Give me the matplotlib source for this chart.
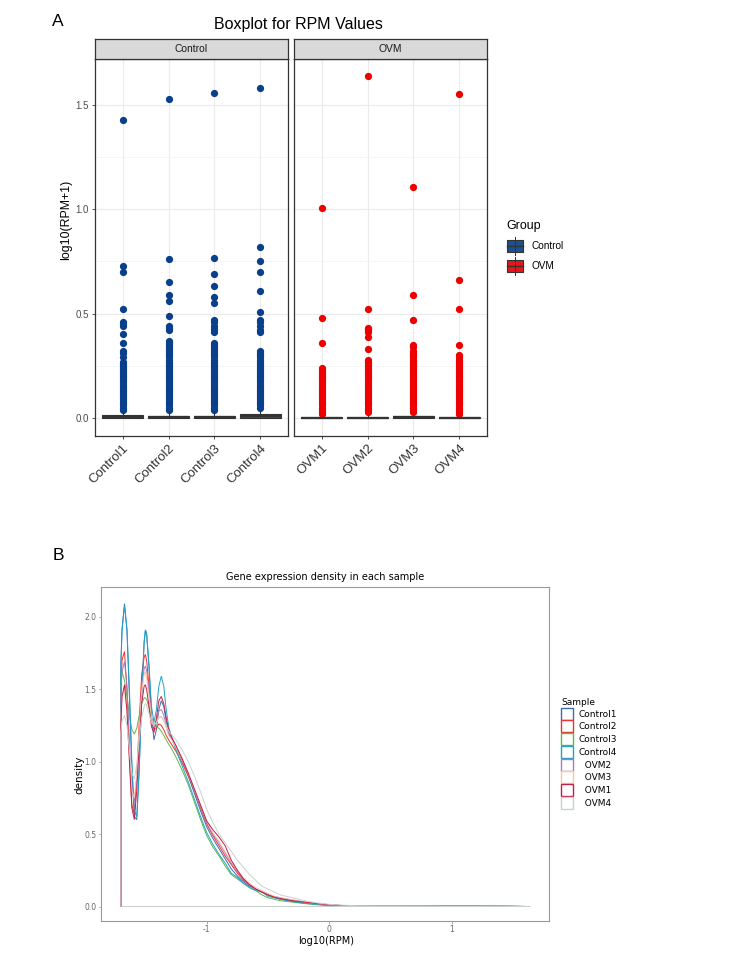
import numpy as np
import matplotlib
matplotlib.use("Agg")
import matplotlib.pyplot as plt
from matplotlib.patches import Rectangle, Patch
from matplotlib.lines import Line2D

# ---------------- Panel A data (log10(RPM+1) boxplots) ----------------
control_samples = ["Control1", "Control2", "Control3", "Control4"]
ovm_samples = ["OVM1", "OVM2", "OVM3", "OVM4"]

control_q1 = [0.0, 0.0, 0.0, 0.001]
control_med = [0.005, 0.004, 0.004, 0.008]
control_q3 = [0.012, 0.011, 0.011, 0.018]
control_whi = [0.035, 0.032, 0.032, 0.048]

ovm_q1 = [0.0, 0.0, 0.0, 0.0]
ovm_med = [0.001, 0.001, 0.003, 0.001]
ovm_q3 = [0.003, 0.003, 0.009, 0.003]
ovm_whi = [0.015, 0.02, 0.025, 0.012]

control1_out = [1.43, 0.73, 0.70, 0.52, 0.46, 0.45, 0.44, 0.40, 0.36, 0.32, 0.31, 0.29,
                0.27, 0.26, 0.25, 0.24, 0.23, 0.22, 0.21, 0.20, 0.19, 0.18, 0.17, 0.16,
                0.15, 0.14, 0.13, 0.12, 0.11, 0.10, 0.09, 0.08, 0.07, 0.06, 0.05, 0.04]
control2_out = [1.53, 0.76, 0.65, 0.59, 0.56, 0.49, 0.44, 0.43, 0.42, 0.37, 0.36, 0.35,
                0.34, 0.33, 0.32, 0.31, 0.30, 0.29, 0.28, 0.27, 0.26, 0.25, 0.24, 0.23,
                0.22, 0.21, 0.20, 0.19, 0.18, 0.17, 0.16, 0.15, 0.14, 0.13, 0.12, 0.11,
                0.10, 0.09, 0.08, 0.07, 0.06, 0.05, 0.04]
control3_out = [1.555, 0.765, 0.69, 0.63, 0.58, 0.55, 0.47, 0.46, 0.44, 0.425, 0.41, 0.36,
                0.35, 0.34, 0.33, 0.32, 0.31, 0.30, 0.29, 0.28, 0.27, 0.26, 0.25, 0.24,
                0.23, 0.22, 0.21, 0.20, 0.19, 0.18, 0.17, 0.16, 0.15, 0.14, 0.13, 0.12,
                0.11, 0.10, 0.09, 0.08, 0.07, 0.06, 0.05, 0.04]
control4_out = [1.58, 0.82, 0.75, 0.70, 0.61, 0.51, 0.47, 0.46, 0.44, 0.42, 0.41, 0.32,
                0.31, 0.30, 0.29, 0.28, 0.27, 0.26, 0.25, 0.24, 0.23, 0.22, 0.21, 0.20,
                0.19, 0.18, 0.17, 0.16, 0.15, 0.14, 0.13, 0.12, 0.11, 0.10, 0.09, 0.08,
                0.07, 0.06, 0.05]
ovm1_out = [1.005, 0.48, 0.36, 0.24, 0.23, 0.22, 0.21, 0.20, 0.19, 0.18, 0.17, 0.16,
            0.15, 0.14, 0.13, 0.12, 0.11, 0.10, 0.09, 0.08, 0.07, 0.06, 0.05, 0.04,
            0.03, 0.02]
ovm2_out = [1.64, 0.52, 0.43, 0.42, 0.41, 0.39, 0.33, 0.28, 0.27, 0.26, 0.25, 0.24,
            0.23, 0.22, 0.21, 0.20, 0.19, 0.18, 0.17, 0.16, 0.15, 0.14, 0.13, 0.12,
            0.11, 0.10, 0.09, 0.08, 0.07, 0.06, 0.05, 0.04, 0.03]
ovm3_out = [1.105, 0.59, 0.47, 0.35, 0.34, 0.32, 0.31, 0.30, 0.29, 0.28, 0.27, 0.26,
            0.25, 0.24, 0.23, 0.22, 0.21, 0.20, 0.19, 0.18, 0.17, 0.16, 0.15, 0.14,
            0.13, 0.12, 0.11, 0.10, 0.09, 0.08, 0.07, 0.06, 0.05, 0.04, 0.03]
ovm4_out = [1.55, 0.66, 0.52, 0.35, 0.30, 0.29, 0.28, 0.27, 0.26, 0.25, 0.24, 0.23,
            0.22, 0.21, 0.20, 0.19, 0.18, 0.17, 0.16, 0.15, 0.14, 0.13, 0.12, 0.11,
            0.10, 0.09, 0.08, 0.07, 0.06, 0.05, 0.04, 0.03, 0.02]

control_out = [control1_out, control2_out, control3_out, control4_out]
ovm_out = [ovm1_out, ovm2_out, ovm3_out, ovm4_out]

# ---------------- Panel B data (density of log10(RPM)) ----------------
dens_x = [-1.70, -1.69, -1.67, -1.65, -1.63, -1.61, -1.59, -1.57, -1.55, -1.53, -1.51,
          -1.50, -1.49, -1.47, -1.45, -1.43, -1.41, -1.39, -1.37, -1.35, -1.33, -1.31,
          -1.28, -1.25, -1.20, -1.15, -1.10, -1.05, -1.00, -0.95, -0.90, -0.85, -0.80,
          -0.75, -0.70, -0.65, -0.60, -0.55, -0.50, -0.45, -0.40, -0.30, -0.20, -0.10,
          0.00, 0.10, 0.25, 0.50, 0.75, 1.00, 1.25, 1.45, 1.63]

dens_control1 = [1.68, 1.92, 2.09, 1.90, 1.45, 0.95, 0.62, 0.60, 0.95, 1.45, 1.82,
                 1.90, 1.88, 1.65, 1.32, 1.15, 1.22, 1.36, 1.42, 1.38, 1.28, 1.20,
                 1.15, 1.10, 1.01, 0.90, 0.78, 0.66, 0.55, 0.47, 0.40, 0.33, 0.26,
                 0.21, 0.17, 0.14, 0.12, 0.10, 0.08, 0.065, 0.05, 0.035, 0.025, 0.016,
                 0.009, 0.006, 0.004, 0.003, 0.002, 0.002, 0.002, 0.001, 0.0]
dens_control2 = [1.45, 1.70, 1.76, 1.50, 1.05, 0.70, 0.64, 0.90, 1.28, 1.60, 1.72,
                 1.74, 1.70, 1.52, 1.30, 1.22, 1.23, 1.26, 1.25, 1.22, 1.18, 1.15,
                 1.11, 1.07, 0.99, 0.90, 0.80, 0.68, 0.57, 0.49, 0.42, 0.35, 0.29,
                 0.23, 0.18, 0.15, 0.12, 0.10, 0.08, 0.065, 0.055, 0.04, 0.03, 0.02,
                 0.01, 0.007, 0.004, 0.003, 0.002, 0.003, 0.002, 0.002, 0.0]
dens_control3 = [1.60, 1.62, 1.56, 1.45, 1.32, 1.22, 1.19, 1.23, 1.32, 1.40, 1.44,
                 1.44, 1.43, 1.37, 1.30, 1.26, 1.24, 1.23, 1.21, 1.18, 1.15, 1.12,
                 1.08, 1.03, 0.94, 0.84, 0.72, 0.60, 0.49, 0.41, 0.35, 0.28, 0.22,
                 0.19, 0.16, 0.13, 0.11, 0.08, 0.06, 0.05, 0.04, 0.03, 0.02, 0.012,
                 0.006, 0.004, 0.003, 0.002, 0.002, 0.002, 0.001, 0.001, 0.0]
dens_control4 = [1.62, 1.90, 2.08, 1.92, 1.50, 1.00, 0.66, 0.62, 0.95, 1.45, 1.83,
                 1.91, 1.89, 1.66, 1.38, 1.27, 1.36, 1.52, 1.59, 1.52, 1.36, 1.24,
                 1.15, 1.08, 0.97, 0.86, 0.74, 0.62, 0.51, 0.43, 0.36, 0.30, 0.23,
                 0.20, 0.16, 0.13, 0.11, 0.10, 0.07, 0.06, 0.05, 0.035, 0.022, 0.015,
                 0.008, 0.005, 0.004, 0.003, 0.002, 0.003, 0.002, 0.001, 0.0]
dens_ovm2 = [1.45, 1.62, 1.69, 1.52, 1.15, 0.82, 0.72, 0.88, 1.20, 1.50, 1.64,
             1.66, 1.63, 1.48, 1.30, 1.24, 1.28, 1.35, 1.36, 1.32, 1.25, 1.19,
             1.15, 1.10, 1.01, 0.91, 0.80, 0.69, 0.58, 0.50, 0.44, 0.37, 0.30,
             0.24, 0.19, 0.15, 0.12, 0.10, 0.08, 0.07, 0.06, 0.045, 0.03, 0.02,
             0.012, 0.007, 0.004, 0.003, 0.002, 0.002, 0.002, 0.001, 0.0]
dens_ovm3 = [1.30, 1.45, 1.50, 1.35, 1.05, 0.80, 0.75, 0.92, 1.22, 1.48, 1.60,
             1.62, 1.58, 1.45, 1.30, 1.24, 1.27, 1.31, 1.31, 1.28, 1.23, 1.18,
             1.14, 1.10, 1.02, 0.92, 0.81, 0.70, 0.59, 0.51, 0.45, 0.38, 0.31,
             0.25, 0.20, 0.16, 0.13, 0.11, 0.09, 0.07, 0.06, 0.045, 0.03, 0.02,
             0.012, 0.007, 0.005, 0.003, 0.002, 0.002, 0.002, 0.001, 0.0]
dens_ovm1 = [1.25, 1.45, 1.53, 1.35, 1.00, 0.68, 0.60, 0.80, 1.12, 1.40, 1.52,
             1.53, 1.50, 1.38, 1.24, 1.20, 1.30, 1.42, 1.45, 1.40, 1.30, 1.22,
             1.16, 1.11, 1.02, 0.92, 0.81, 0.70, 0.59, 0.53, 0.48, 0.42, 0.32,
             0.25, 0.19, 0.15, 0.12, 0.10, 0.08, 0.065, 0.055, 0.04, 0.03, 0.02,
             0.012, 0.007, 0.004, 0.003, 0.002, 0.002, 0.002, 0.001, 0.0]
dens_ovm4 = [1.20, 1.28, 1.32, 1.25, 1.08, 0.92, 0.88, 0.98, 1.15, 1.30, 1.38,
             1.40, 1.39, 1.33, 1.27, 1.25, 1.27, 1.30, 1.31, 1.29, 1.25, 1.21,
             1.18, 1.15, 1.08, 1.00, 0.90, 0.79, 0.67, 0.58, 0.50, 0.44, 0.38,
             0.32, 0.27, 0.22, 0.18, 0.14, 0.12, 0.10, 0.08, 0.06, 0.04, 0.025,
             0.015, 0.009, 0.005, 0.004, 0.003, 0.002, 0.002, 0.001, 0.0]

dens_labels = ["Control1", "Control2", "Control3", "Control4", "OVM2", "OVM3", "OVM1", "OVM4"]
dens_values = [dens_control1, dens_control2, dens_control3, dens_control4,
               dens_ovm2, dens_ovm3, dens_ovm1, dens_ovm4]
dens_colors = ["#3a6db3", "#f0302d", "#5cb848", "#23a3c8",
               "#a47cc0", "#fcc5a5", "#c42047", "#c9d1d1"]

group_point = {"Control": "#0a3f8c", "OVM": "#ee0000"}
group_fill = {"Control": "#1d4f91", "OVM": "#e8161a"}

W, H = 750, 959


def fx(x):
    return x / W


def fy(y):
    return 1 - y / H


fig = plt.figure(figsize=(7.5, 9.59), dpi=100)
fig.patch.set_facecolor("white")

sansA = "Liberation Sans"
sansB = "DejaVu Sans"

# ---------------- Panel A ----------------
panel_top, panel_bot = 59, 435.7
facets = [("Control", control_samples, control_q1, control_med, control_q3, control_whi, control_out, 95.3),
          ("OVM", ovm_samples, ovm_q1, ovm_med, ovm_q3, ovm_whi, ovm_out, 294.3)]

for k, (grp, names, q1, med, q3, whi, outs, left) in enumerate(facets):
    ax = fig.add_axes([fx(left), fy(panel_bot), 192.4 / W, (panel_bot - panel_top) / H])
    stats = []
    for i in range(len(names)):
        stats.append({"med": med[i], "q1": q1[i], "q3": q3[i],
                      "whislo": 0.0, "whishi": whi[i], "fliers": outs[i]})
    ax.bxp(stats, positions=range(1, len(names) + 1), widths=0.9, patch_artist=True,
           showcaps=False,
           boxprops=dict(facecolor=group_fill[grp], edgecolor="#333333", linewidth=0.8),
           medianprops=dict(color="#333333", linewidth=1.6),
           whiskerprops=dict(color="#333333", linewidth=0.8),
           flierprops=dict(marker="o", markerfacecolor=group_point[grp],
                           markeredgecolor=group_point[grp], markersize=4.2, linestyle="none"),
           zorder=3)
    ax.set_xlim(0.4, 4.6)
    ax.set_ylim(-0.085, 1.72)
    ax.set_yticks([0.0, 0.5, 1.0, 1.5])
    ax.set_yticks([0.25, 0.75, 1.25], minor=True)
    ax.set_xticks(range(1, len(names) + 1))
    ax.set_xticklabels(names, rotation=45, ha="right", va="top", rotation_mode="anchor",
                       fontsize=9.5, family=sansA, color="#333333")
    ax.grid(True, which="major", color="#ebebeb", linewidth=0.8, zorder=0)
    ax.grid(True, which="minor", axis="y", color="#f2f2f2", linewidth=0.5, zorder=0)
    ax.set_axisbelow(True)
    ax.tick_params(axis="both", which="major", length=2.5, width=0.6, color="#333333", pad=2)
    ax.tick_params(axis="y", which="minor", length=0)
    for s in ax.spines.values():
        s.set_color("#333333")
        s.set_linewidth(0.9)
    if k == 0:
        ax.set_yticklabels(["0.0", "0.5", "1.0", "1.5"], fontsize=7, family=sansA, color="#4d4d4d")
    else:
        ax.tick_params(axis="y", which="both", left=False, labelleft=False)

    # facet strip
    sax = fig.add_axes([fx(left), fy(panel_top), 192.4 / W, 20 / H])
    sax.set_facecolor("#d9d9d9")
    sax.set_xticks([])
    sax.set_yticks([])
    for s in sax.spines.values():
        s.set_color("#333333")
        s.set_linewidth(0.9)
    sax.text(0.5, 0.5, grp, ha="center", va="center", fontsize=7.4, family=sansA,
             color="#1a1a1a", transform=sax.transAxes)

fig.text(fx(298), fy(24), "Boxplot for RPM Values", ha="center", va="center",
         fontsize=11.5, family=sansA, color="black")
fig.text(fx(66), fy(220), "log10(RPM+1)", ha="center", va="center", rotation=90,
         fontsize=8.9, family=sansA, color="black")
fig.text(fx(58), fy(22), "A", ha="center", va="center", fontsize=12.5, family=sansA)

# group legend (drawn as box keys)
fig.text(fx(506), fy(226), "Group", ha="left", va="center", fontsize=9, family=sansA)
for i, grp in enumerate(["Control", "OVM"]):
    top = 240 + i * 19.7
    fig.add_artist(Line2D([fx(515.3), fx(515.3)], [fy(top - 3), fy(top + 15.3)],
                          transform=fig.transFigure, color="#333333", lw=0.7))
    fig.add_artist(Rectangle((fx(507.3), fy(top + 12.3)), 16 / W, 12.3 / H,
                             transform=fig.transFigure, facecolor=group_fill[grp],
                             edgecolor="#333333", lw=0.8))
    fig.add_artist(Line2D([fx(507.3), fx(523.3)], [fy(top + 6.2), fy(top + 6.2)],
                          transform=fig.transFigure, color="#333333", lw=1.0))
    fig.text(fx(531.7), fy(top + 6.2), grp, ha="left", va="center", fontsize=7.2, family=sansA)

# ---------------- Panel B ----------------
axB = fig.add_axes([fx(100.7), fy(921), (549 - 100.7) / W, (921 - 586.7) / H])
handles = []
for lab, ys, col in zip(dens_labels, dens_values, dens_colors):
    xs_closed = np.r_[dens_x[0], dens_x]
    ys_closed = np.r_[0.0, ys]
    axB.fill(xs_closed, ys_closed, fill=False, edgecolor=col, linewidth=0.7)
    handles.append(Patch(facecolor="white", edgecolor=col, linewidth=1.0))

axB.set_xlim(-1.864, 1.79)
axB.set_ylim(-0.10, 2.207)
axB.set_xticks([-1, 0, 1])
axB.set_xticklabels(["-1", "0", "1"], fontsize=5.5, family=sansB, color="#666666")
axB.set_yticks([0.0, 0.5, 1.0, 1.5, 2.0])
axB.set_yticklabels(["0.0", "0.5", "1.0", "1.5", "2.0"], fontsize=5.5, family=sansB, color="#666666")
axB.tick_params(length=1.8, width=0.5, color="#888888", pad=1.2)
for s in axB.spines.values():
    s.set_color("#999999")
    s.set_linewidth(0.8)
axB.set_title("Gene expression density in each sample", fontsize=7, family=sansB, pad=5)
fig.text(fx(79.5), fy(775), "density", ha="center", va="center", rotation=90,
         fontsize=7.5, family=sansB)
fig.text(fx(326), fy(941), "log10(RPM)", ha="center", va="center", fontsize=7, family=sansB)
fig.text(fx(58), fy(556), "B", ha="center", va="center", fontsize=12.5, family=sansA)

shown = ["Control1", "Control2", "Control3", "Control4", "  OVM2", "  OVM3", "  OVM1", "  OVM4"]
leg = fig.legend(handles, shown, loc="upper left", bbox_to_anchor=(fx(561), fy(698)),
                 frameon=False, title="Sample", alignment="left",
                 prop={"family": sansB, "size": 6.5}, title_fontproperties={"family": sansB, "size": 6.5},
                 handlelength=1.33, handleheight=1.67, labelspacing=0.08, handletextpad=0.63,
                 borderpad=0, borderaxespad=0)

fig.savefig("out.png", dpi=100)
